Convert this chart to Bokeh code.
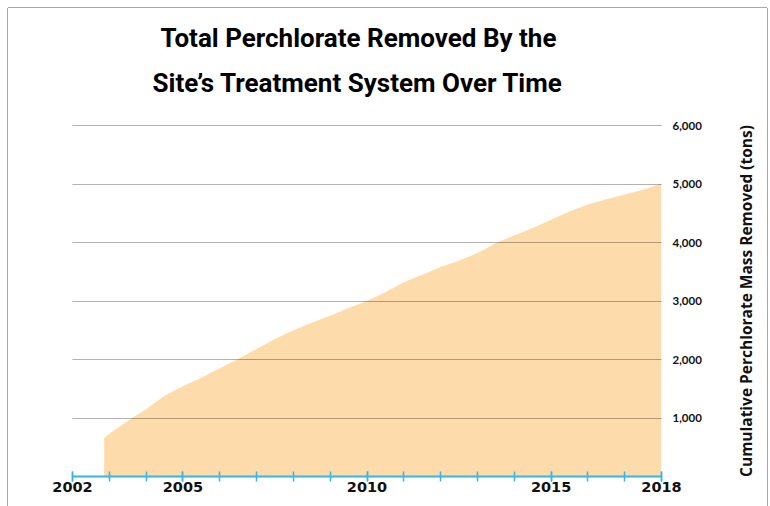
from bokeh.plotting import figure
from bokeh.layouts import row
from bokeh.models import ColumnDataSource, FixedTicker, NumeralTickFormatter, Range1d, Title
from bokeh.embed import file_html
from bokeh.resources import INLINE

# ---- data ----
years = [2002.86, 2003.0, 2003.25, 2003.5, 2003.75, 2004.0, 2004.5, 2005.0, 2005.5,
         2006.0, 2006.5, 2007.0, 2007.5, 2008.0, 2008.5, 2009.0, 2009.5, 2010.0,
         2010.5, 2011.0, 2011.5, 2012.0, 2012.5, 2013.0, 2013.25, 2013.5, 2014.0,
         2014.5, 2015.0, 2015.5, 2016.0, 2016.5, 2017.0, 2017.5, 2018.0]
tons = [660, 730, 840, 950, 1050, 1150, 1380, 1545, 1690,
        1850, 2010, 2180, 2350, 2500, 2630, 2750, 2880, 3000,
        3150, 3320, 3450, 3580, 3690, 3820, 3900, 3990, 4120,
        4250, 4390, 4530, 4650, 4740, 4820, 4900, 5010]
x_major_ticks = [2002, 2005, 2010, 2015, 2018]
x_minor_ticks = list(range(2002, 2019))
y_ticks = [1000, 2000, 3000, 4000, 5000, 6000]
title_line1 = "Total Perchlorate Removed By the"
title_line2 = "Site\u2019s Treatment System Over Time"
y_title = "Cumulative Perchlorate Mass Removed (tons)"

src = ColumnDataSource(dict(x=years, y=tons))
yr = Range1d(0, 6000.5)

p = figure(width=700, height=498, output_backend="svg", toolbar_location=None,
           x_range=Range1d(2002, 2018), y_range=yr,
           y_axis_location="right",
           min_border_left=64, min_border_right=47, min_border_top=117, min_border_bottom=30)
p.outline_line_color = None
p.background_fill_color = "white"
p.border_fill_color = "white"

p.varea(x="x", y1=0, y2="y", source=src, fill_color="#FDDBAB", fill_alpha=1.0)

# x axis
xt = FixedTicker(ticks=x_major_ticks, minor_ticks=x_minor_ticks)
xa = p.xaxis[0]
xa.ticker = xt
xa.axis_line_color = "#3BB3E4"
xa.axis_line_width = 2
xa.major_tick_line_color = "#3BB3E4"
xa.minor_tick_line_color = "#3BB3E4"
xa.major_tick_line_width = 1.5
xa.minor_tick_line_width = 1.5
xa.major_tick_in = 5
xa.major_tick_out = 5
xa.minor_tick_in = 5
xa.minor_tick_out = 5
xa.major_label_standoff = 0
xa.major_label_text_font = "DejaVu Sans"
xa.major_label_text_font_style = "bold"
xa.major_label_text_font_size = "14.5px"
xa.major_label_text_color = "#111111"

# y axis (right) with tick labels
yt = FixedTicker(ticks=y_ticks)
ya = p.yaxis[0]
ya.ticker = yt
ya.formatter = NumeralTickFormatter(format="0,0")
ya.axis_line_color = None
ya.major_tick_line_color = None
ya.minor_tick_line_color = None
ya.major_label_standoff = 5
ya.major_label_text_font = "Lato"
ya.major_label_text_font_style = "bold"
ya.major_label_text_font_size = "11.5px"
ya.major_label_text_color = "#111111"

p.xgrid.grid_line_color = None
p.ygrid.ticker = yt
p.ygrid.grid_line_color = "black"
p.ygrid.grid_line_alpha = 0.3
p.ygrid.grid_line_width = 1
p.ygrid.level = "overlay"

# title: spacer next to the frame, then line 2, then line 1
p.add_layout(Title(text=" ", text_font_size="1px", standoff=25), "above")
p.add_layout(Title(text=title_line2, align="left", offset=80, vertical_align="bottom", standoff=0,
                   text_font="Roboto", text_font_style="bold",
                   text_font_size="26px", text_color="#000000"), "above")
p.add_layout(Title(text=title_line1, align="left", offset=88, vertical_align="bottom", standoff=25,
                   text_font="Roboto", text_font_style="bold",
                   text_font_size="26px", text_color="#000000"), "above")

# narrow companion figure carrying the vertical axis title (reads bottom to top)
p2 = figure(width=59, height=498, output_backend="svg", toolbar_location=None,
            x_range=Range1d(0, 1), y_range=yr, x_axis_location=None, y_axis_location="left",
            min_border_left=48, min_border_right=0, min_border_top=110, min_border_bottom=30)
p2.outline_line_color = None
p2.background_fill_color = "white"
p2.border_fill_color = "white"
p2.grid.grid_line_color = None
a2 = p2.yaxis[0]
a2.ticker = FixedTicker(ticks=[])
a2.axis_line_color = None
a2.major_tick_line_color = None
a2.minor_tick_line_color = None
a2.axis_label = y_title
a2.axis_label_standoff = 0
a2.axis_label_text_font = "Open Sans"
a2.axis_label_text_font_style = "bold"
a2.axis_label_text_font_size = "15.5px"
a2.axis_label_text_color = "#111111"

layout = row(p, p2, spacing=0)
layout.styles = {"margin-left": "8px", "margin-top": "8px",
                 "box-shadow": "-1px 0 0 0 #a8a8a8, 1px 0 0 0 #a8a8a8, 0 -1px 0 0 #a8a8a8"}

open("out.html", "w").write(file_html(layout, INLINE))
